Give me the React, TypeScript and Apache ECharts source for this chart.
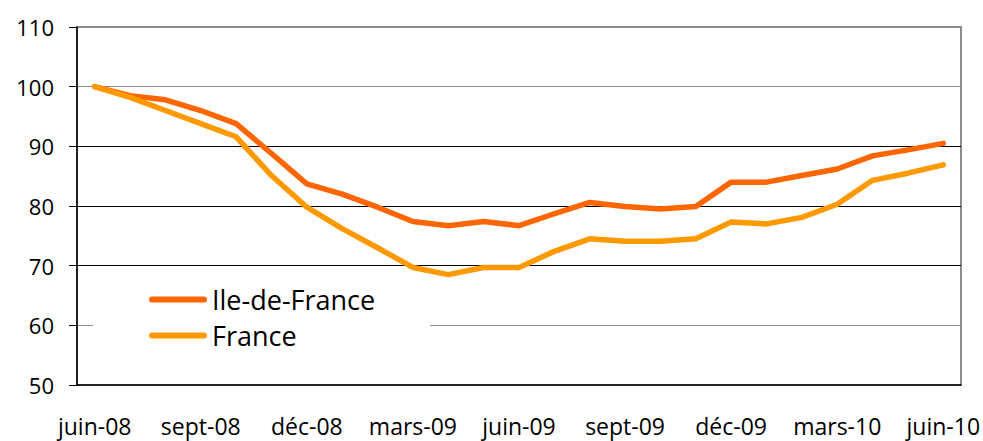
import React, { useEffect, useRef } from "react";
import * as echarts from "echarts";

const months = [
  "juin-08", "juil-08", "août-08", "sept-08", "oct-08", "nov-08", "déc-08",
  "janv-09", "févr-09", "mars-09", "avr-09", "mai-09", "juin-09", "juil-09",
  "août-09", "sept-09", "oct-09", "nov-09", "déc-09", "janv-10", "févr-10",
  "mars-10", "avr-10", "mai-10", "juin-10",
];

const ileDeFrance = [
  100, 98.5, 97.8, 96.0, 93.8, 88.8, 83.7, 82.0, 79.8, 77.4, 76.7, 77.4, 76.7,
  78.7, 80.6, 79.9, 79.5, 79.9, 84.0, 84.0, 85.1, 86.2, 88.4, 89.4, 90.5,
];

const france = [
  100, 98.2, 96.0, 93.8, 91.6, 85.1, 79.8, 76.2, 73.0, 69.7, 68.5, 69.7, 69.7,
  72.4, 74.5, 74.1, 74.1, 74.5, 77.3, 77.0, 78.1, 80.3, 84.3, 85.5, 86.9,
];

const seriesNames = ["Ile-de-France", "France"];

const FONT = "'Open Sans', 'DejaVu Sans', sans-serif";

export default function App() {
  const ref = useRef<HTMLDivElement>(null);

  useEffect(() => {
    if (!ref.current) return;
    const chart = echarts.init(ref.current, null, { renderer: "svg" });
    chart.setOption({
      animation: false,
      backgroundColor: "#ffffff",
      grid: {
        left: 77,
        right: 19,
        top: 27,
        bottom: 56,
        show: true,
        borderColor: "#8c8c8c",
        borderWidth: 2,
      },
      legend: {
        data: seriesNames,
        orient: "vertical",
        left: 93,
        top: 278,
        padding: [8, 55, 12, 56],
        backgroundColor: "#ffffff",
        itemWidth: 58,
        itemHeight: 6,
        itemGap: 9,
        icon: "path://M3,0 H55 A3,3 0 0 1 55,6 H3 A3,3 0 0 1 3,0 Z",
        textStyle: { fontFamily: FONT, fontSize: 27, lineHeight: 27, color: "#000" },
      },
      xAxis: {
        type: "category",
        data: months,
        boundaryGap: true,
        axisLine: { lineStyle: { color: "#000", width: 1.5 } },
        axisTick: { interval: 2, length: 8, lineStyle: { color: "#000", width: 1 } },
        axisLabel: {
          interval: 2,
          margin: 28,
          fontFamily: FONT,
          fontSize: 23,
          lineHeight: 26,
          color: "#000",
        },
        splitLine: { show: false },
      },
      yAxis: {
        type: "value",
        min: 50,
        max: 110,
        interval: 10,
        axisLine: { show: true, lineStyle: { color: "#000", width: 1.5 } },
        axisTick: { show: true, length: 8, lineStyle: { color: "#000" } },
        axisLabel: {
          margin: 23,
          fontFamily: FONT,
          fontSize: 22,
          color: "#000",
          padding: [0, 0, 6, 0],
        },
        splitLine: {
          show: true,
          lineStyle: {
            color: ["#8c8c8c", "#8c8c8c", "#000", "#000", "#000", "#8c8c8c", "#8c8c8c"],
            width: 1,
          },
        },
      },
      series: [
        {
          name: "Ile-de-France",
          type: "line",
          data: ileDeFrance,
          showSymbol: false,
          color: "#ff6600",
          lineStyle: { width: 5.5, color: "#ff6600", cap: "round", join: "round" },
          z: 2,
        },
        {
          name: "France",
          type: "line",
          data: france,
          showSymbol: false,
          color: "#ff9900",
          lineStyle: { width: 5.5, color: "#ff9900", cap: "round", join: "round" },
          z: 3,
        },
      ],
    });
    return () => chart.dispose();
  }, []);

  return <div ref={ref} style={{ width: 983, height: 441, position: "absolute", left: 0, top: 0 }} />;
}
